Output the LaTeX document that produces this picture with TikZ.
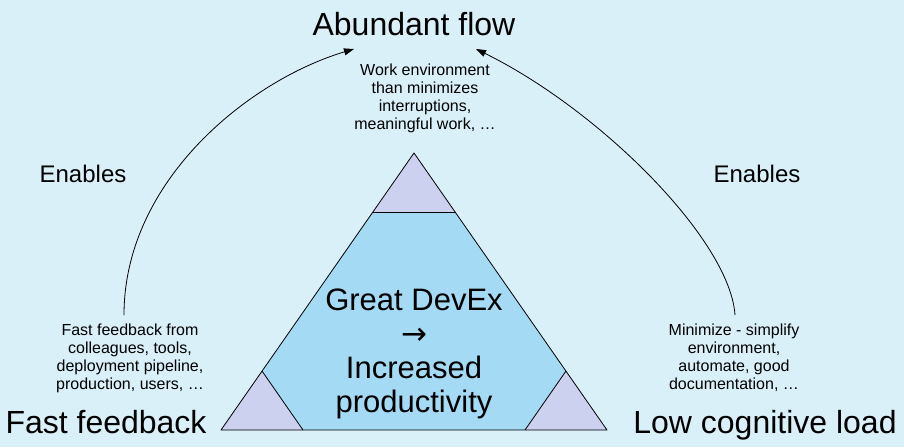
\documentclass[tikz,border=0pt]{standalone}
\usepackage{fontspec}
\setmainfont{Liberation Sans}
\newfontfamily\arrowfont{DejaVu Sans}
\usetikzlibrary{arrows.meta}
\definecolor{bg}{RGB}{218,240,249}
\definecolor{core}{RGB}{164,218,243}
\definecolor{corner}{RGB}{205,209,240}
\newcommand{\mlines}[1]{\begin{tabular}[t]{@{}c@{}}#1\end{tabular}}
\begin{document}
\begin{tikzpicture}[x=1pt,y=-1pt,
  big/.style={font=\fontsize{32}{36}\selectfont, inner sep=0pt, anchor=base},
  mid/.style={font=\fontsize{24}{28}\selectfont, inner sep=0pt, anchor=base},
  centre/.style={font=\fontsize{31}{34}\selectfont, inner sep=0pt, anchor=base},
  small/.style={font=\fontsize{16}{18.3}\selectfont, inner sep=0pt, anchor=base},
  edge/.style={draw=black, line width=0.8pt, line join=round},
  arr/.style={-{Triangle[length=10pt,width=7pt]}, line width=0.8pt}]
\fill[bg] (0,0) rectangle (904,447);
\useasboundingbox (0,0) rectangle (904,447);

% triangle
\fill[core] (414,153) -- (607,430) -- (221,430) -- cycle;
\fill[corner] (414,153) -- (455,212) -- (373,212) -- cycle;
\fill[corner] (221,430) -- (262,371) -- (303,430) -- cycle;
\fill[corner] (607,430) -- (566,371) -- (525,430) -- cycle;
\draw[edge] (414,153) -- (607,430) -- (221,430) -- cycle;
\draw[edge] (373,212) -- (455,212);
\draw[edge] (262,371) -- (303,430);
\draw[edge] (566,371) -- (525,430);

% titles
\node[big] (flow) at (414,35) {Abundant flow};
\node[big] (fast) at (106,433) {Fast feedback};
\node[big] (low) at (765,433) {Low cognitive load};

% centre text
\node[centre] (devex) at (414,310) {\mlines{Great DevEx\\{\arrowfont →}\\Increased\\productivity}};

% descriptions
\node[small] (flowtxt) at (425,75) {\mlines{Work environment\\than minimizes\\interruptions,\\meaningful work, …}};
\node[small] (fasttxt) at (130,335) {\mlines{Fast feedback from\\colleagues, tools,\\deployment pipeline,\\production, users, …}};
\node[small] (lowtxt) at (734,335) {\mlines{Minimize - simplify\\environment,\\automate, good\\documentation, …}};

% enables
\node[mid] (en1) at (83,182) {Enables};
\node[mid] (en2) at (757,182) {Enables};

% arrows
\coordinate (s1) at (124,315);
\coordinate (e1) at (354,49);
\coordinate (s2) at (735,315);
\coordinate (e2) at (476,49);
\draw[arr] (s1) .. controls (124,180) and (250,80) .. (e1);
\draw[arr] (s2) .. controls (730,240) and (600,110) .. (e2);
\end{tikzpicture}
\end{document}
